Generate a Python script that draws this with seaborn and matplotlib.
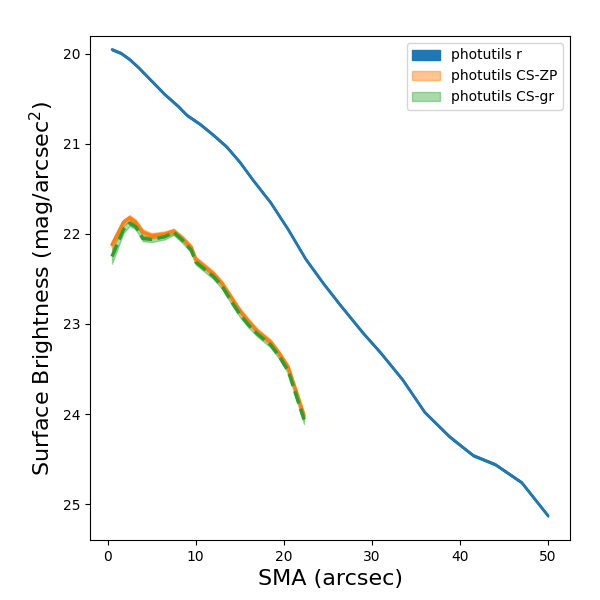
import matplotlib
matplotlib.use("Agg")
import matplotlib.pyplot as plt
import seaborn as sns
import numpy as np

sns.set_style("ticks", {"axes.edgecolor": "black", "text.color": "black",
                        "xtick.color": "black", "ytick.color": "black",
                        "axes.labelcolor": "black"})
plt.rcParams["font.family"] = ["DejaVu Sans"]

# ─── Data ─────────────────────────────────────────────────────────────────────
sma_r = [0.5, 1.5, 2.5, 3.5, 5, 6.5, 8, 9, 10.5, 12, 13.5, 15, 16.5, 18.5, 20.5,
         22.5, 24.5, 26.5, 29, 31, 33.5, 36, 38.8, 41.5, 44, 47, 50]
sb_r = [19.95, 19.99, 20.06, 20.15, 20.3, 20.45, 20.58, 20.68, 20.78, 20.9, 21.03,
        21.2, 21.4, 21.65, 21.95, 22.28, 22.55, 22.8, 23.1, 23.32, 23.62, 23.98,
        24.25, 24.46, 24.56, 24.76, 25.13]
err_r = [0.01] * len(sma_r)

sma_cs = [0.5, 1.8, 2.5, 3.2, 4, 5, 6.5, 7.5, 8.5, 9.5, 10, 11, 12, 13, 14, 15,
          16, 17, 18.5, 19.5, 20.5, 21.5, 22.3]
sb_zp = [22.12, 21.87, 21.82, 21.87, 21.98, 22.02, 22.0, 21.97, 22.05, 22.15, 22.28,
         22.36, 22.44, 22.55, 22.7, 22.85, 22.97, 23.08, 23.2, 23.33, 23.48, 23.78, 24.02]
err_zp = [0.04, 0.03, 0.03, 0.03, 0.03, 0.03, 0.03, 0.03, 0.03, 0.03, 0.03, 0.03,
          0.03, 0.03, 0.03, 0.03, 0.03, 0.03, 0.03, 0.03, 0.03, 0.04, 0.04]
sb_gr = [22.25, 21.95, 21.88, 21.92, 22.05, 22.06, 22.03, 21.98, 22.07, 22.18, 22.31,
         22.39, 22.47, 22.58, 22.74, 22.89, 23.01, 23.11, 23.23, 23.36, 23.52, 23.82, 24.06]
err_gr = [0.08, 0.04, 0.03, 0.03, 0.03, 0.03, 0.03, 0.03, 0.03, 0.03, 0.03, 0.03,
          0.03, 0.03, 0.03, 0.03, 0.03, 0.03, 0.03, 0.03, 0.03, 0.04, 0.05]

PAL = sns.color_palette("tab10")

fig, ax = plt.subplots(figsize=(6, 6), dpi=100)

r = np.array(sb_r); er = np.array(err_r)
ax.fill_between(sma_r, r - er, r + er, color=PAL[0], alpha=1.0, label="photutils r")
sns.lineplot(x=sma_r, y=sb_r, color=PAL[0], lw=2, ax=ax, sort=False)

z = np.array(sb_zp); ez = np.array(err_zp)
ax.fill_between(sma_cs, z - ez, z + ez, color=PAL[1], alpha=0.45, label="photutils CS-ZP")
sns.lineplot(x=sma_cs, y=sb_zp, color=PAL[1], lw=2.5, ax=ax, sort=False)

g = np.array(sb_gr); eg = np.array(err_gr)
ax.fill_between(sma_cs, g - eg, g + eg, color=PAL[2], alpha=0.4, label="photutils CS-gr")
sns.lineplot(x=sma_cs, y=sb_gr, color=PAL[2], lw=2.5, ls="--", ax=ax, sort=False)

ax.set_xlim(-2, 52.5)
ax.set_ylim(25.4, 19.8)
ax.set_xticks([0, 10, 20, 30, 40, 50])
ax.set_xlabel("SMA (arcsec)", fontsize=16)
ax.set_ylabel(r"Surface Brightness (mag/arcsec$^2$)", fontsize=16)
ax.legend(loc="upper right")
fig.subplots_adjust(left=0.15, right=0.95, bottom=0.1, top=0.94)
fig.savefig("out.png")
